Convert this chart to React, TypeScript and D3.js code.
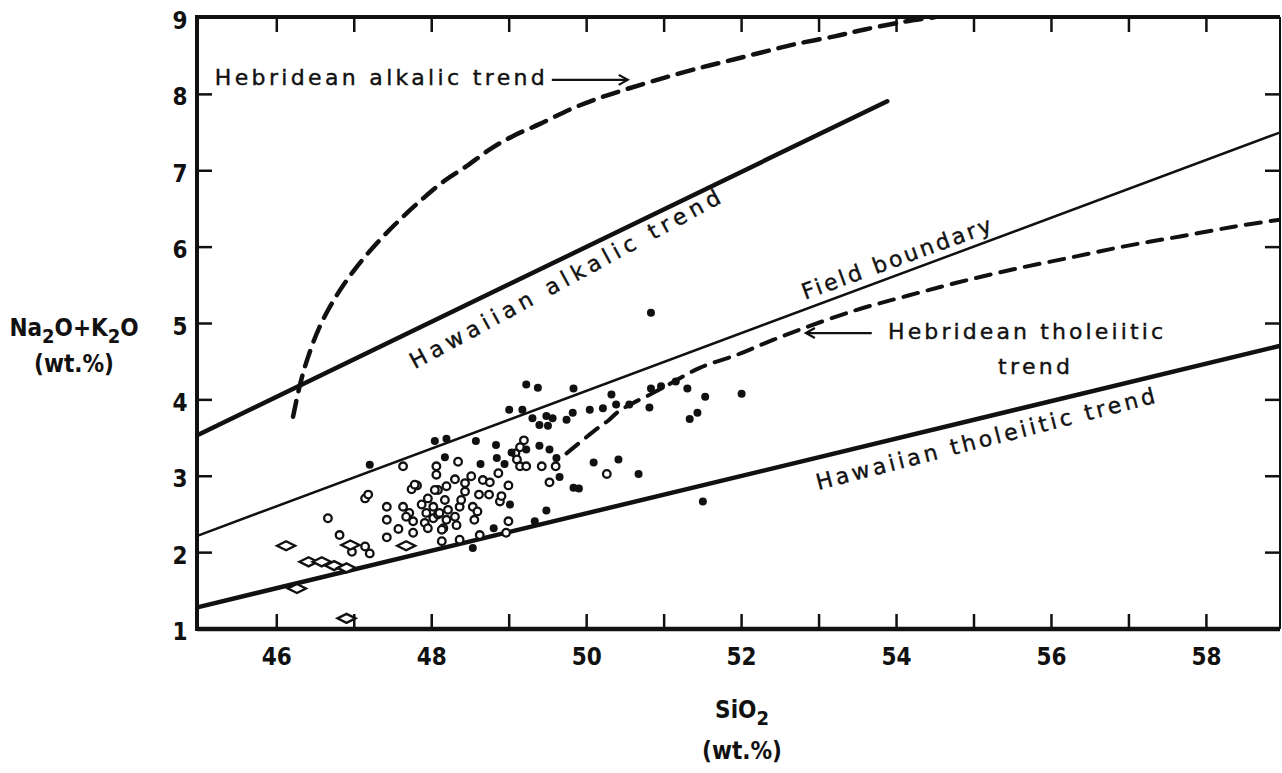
import React from "react";
import * as d3 from "d3";

// ---------- data ----------
const xTickValues = [46, 47, 48, 49, 50, 51, 52, 53, 54, 55, 56, 57, 58];
const xTickLabels = [46, 48, 50, 52, 54, 56, 58];
const yTickValues = [2, 3, 4, 5, 6, 7, 8];
const yTickLabels = [1, 2, 3, 4, 5, 6, 7, 8, 9];

const hawaiianAlkalic: [number, number][] = [[45, 3.55], [53.88, 7.91]];
const fieldBoundary: [number, number][] = [[45, 2.23], [59, 7.52]];
const hawaiianTholeiitic: [number, number][] = [[45, 1.29], [59, 4.72]];

const hebrideanAlkalic: [number, number][] = [
  [46.21, 3.78], [46.3, 4.2], [46.4, 4.55], [46.55, 4.95], [46.75, 5.33],
  [47.0, 5.7], [47.3, 6.06], [47.6, 6.37], [47.88, 6.63],
  [48.14, 6.85], [48.45, 7.06], [48.75, 7.28], [49.04, 7.45], [49.39, 7.61],
  [49.78, 7.8], [50.13, 7.94], [50.52, 8.07], [51.01, 8.22], [51.51, 8.36],
  [51.91, 8.46], [52.3, 8.56], [52.7, 8.66], [53.2, 8.76], [53.59, 8.85],
  [54.09, 8.95], [54.49, 9.01],
];

const hebrideanTholeiitic: [number, number][] = [
  [49.74, 3.3], [50.13, 3.62], [50.28, 3.73], [50.4, 3.84], [50.6, 3.96],
  [50.82, 4.07], [51.04, 4.19], [51.46, 4.42], [51.94, 4.59], [52.32, 4.75],
  [52.75, 4.92], [53.46, 5.17], [54.13, 5.36], [54.8, 5.54], [55.51, 5.71],
  [56.23, 5.86], [56.94, 6.01], [57.66, 6.14], [58.37, 6.27], [58.95, 6.36],
];

const openCircles: [number, number][] = [
  [46.66, 2.45], [46.81, 2.23], [47.2, 1.99], [46.97, 2.01], [47.14, 2.08],
  [47.14, 2.71], [47.18, 2.76], [47.42, 2.6], [47.42, 2.43], [47.42, 2.2],
  [47.57, 2.31], [47.63, 3.13], [47.63, 2.6], [47.71, 2.52], [47.76, 2.26],
  [47.74, 2.83], [47.81, 2.88], [47.87, 2.63], [47.95, 2.71], [47.93, 2.52],
  [47.91, 2.39], [47.95, 2.32], [48.06, 3.13], [48.06, 3.02], [48.08, 2.82],
  [48.02, 2.6], [48.02, 2.45], [48.13, 2.15], [48.17, 2.69], [48.19, 2.87],
  [48.21, 2.56], [48.19, 2.43], [48.15, 2.32], [48.08, 2.5], [48.3, 2.96],
  [48.34, 3.19], [48.32, 2.36], [48.36, 2.17], [48.43, 2.91], [48.43, 2.8],
  [48.51, 3.0], [48.53, 2.6], [47.78, 2.89], [48.66, 2.95], [48.75, 2.92],
  [48.86, 3.04], [48.99, 2.88], [49.19, 3.47], [49.14, 3.38], [49.08, 3.3],
  [49.1, 3.22], [49.14, 3.13], [49.22, 3.13], [49.42, 3.13], [49.6, 3.13],
  [49.52, 2.92], [50.26, 3.03], [47.67, 2.47], [47.76, 2.41], [48.1, 2.52],
  [48.13, 2.3], [48.04, 2.82], [48.3, 2.47], [48.36, 2.6], [48.38, 2.69],
  [48.59, 2.54], [48.55, 2.43], [48.61, 2.76], [48.74, 2.76], [48.88, 2.67],
  [48.9, 2.74], [48.99, 2.41], [48.96, 2.26], [48.62, 2.23],
];

const filledDots: [number, number][] = [
  [47.2, 3.15], [48.04, 3.46], [48.19, 3.49], [48.57, 3.46], [48.17, 3.25],
  [48.53, 2.06], [49.22, 4.2], [49.37, 4.16], [49.83, 4.15], [49.0, 3.87],
  [49.17, 3.87], [49.3, 3.76], [49.48, 3.79], [49.56, 3.76], [49.39, 3.67],
  [49.5, 3.66], [49.74, 3.74], [49.82, 3.83], [50.04, 3.87], [50.21, 3.89],
  [50.32, 4.07], [50.38, 3.94], [48.83, 3.41], [48.84, 3.24], [48.63, 3.16],
  [49.39, 3.4], [49.52, 3.35], [49.22, 3.35], [50.09, 3.18], [50.41, 3.22],
  [49.61, 3.24], [49.65, 2.99], [48.94, 3.16], [49.03, 3.31], [49.01, 2.63],
  [49.48, 2.55], [49.33, 2.41], [48.8, 2.32], [49.83, 2.85], [49.9, 2.84],
  [50.83, 5.14], [50.96, 4.18], [50.83, 4.15], [50.55, 3.94], [50.81, 3.9],
  [51.3, 4.15], [51.15, 4.24], [51.53, 4.04], [52.0, 4.08], [51.43, 3.83],
  [51.33, 3.75], [50.67, 3.03], [51.5, 2.67],
];

const diamonds: [number, number][] = [
  [46.12, 2.09], [46.26, 1.53], [46.41, 1.88], [46.58, 1.88], [46.74, 1.83],
  [46.9, 1.8], [46.95, 2.1], [47.67, 2.09], [46.9, 1.14],
];

// ---------- layout ----------
const W = 1282;
const H = 773;
const X_MIN = 44.97;
const X_MAX = 58.95;
const Y_MIN = 1;
const Y_MAX = 9;

const x = d3.scaleLinear().domain([X_MIN, X_MAX]).range([197, 1280]);
const y = d3.scaleLinear().domain([Y_MIN, Y_MAX]).range([629, 18]);

const INK = "#111";
const tickFont = "'Liberation Sans Narrow', 'DejaVu Sans Condensed', 'Arial Narrow', sans-serif";
const labelFont = "'DejaVu Sans', 'Noto Sans', sans-serif";

const lineGen = d3.line<[number, number]>().x((d) => x(d[0])).y((d) => y(d[1]));
const curveGen = d3
  .line<[number, number]>()
  .x((d) => x(d[0]))
  .y((d) => y(d[1]))
  .curve(d3.curveCatmullRom.alpha(0.5));

function Arrow({ x1, x2, yy }: { x1: number; x2: number; yy: number }) {
  const dir = x2 > x1 ? 1 : -1;
  return (
    <g stroke={INK} fill="none" strokeWidth={2.2}>
      <line x1={x1} y1={yy} x2={x2} y2={yy} />
      <path d={`M${x2 - dir * 9},${yy - 5} L${x2},${yy} L${x2 - dir * 9},${yy + 5}`} />
    </g>
  );
}

export default function App() {
  const left = x(X_MIN);
  const right = x(X_MAX);
  const top = y(Y_MAX) - 1;
  const bottom = y(Y_MIN);

  const rot = (px: number, py: number, ang: number) => `rotate(${ang},${px},${py})`;

  const haX = x(47.78), haY = y(4.4);
  const fbX = x(52.82), fbY = y(5.31);
  const htX = x(52.99), htY = y(2.82);

  return (
    <svg
      width={W}
      height={H}
      style={{ position: "absolute", left: 0, top: 0, background: "#fff" }}
      xmlns="http://www.w3.org/2000/svg"
    >
      <defs>
        <clipPath id="plot">
          <rect x={left} y={top} width={right - left} height={bottom - top} />
        </clipPath>
      </defs>

      {/* frame */}
      <g stroke={INK} fill="none">
        <line x1={left} y1={top} x2={right} y2={top} strokeWidth={4} />
        <line x1={left} y1={bottom} x2={right} y2={bottom} strokeWidth={4.5} />
        <line x1={left} y1={top - 2} x2={left} y2={bottom + 2} strokeWidth={4} />
        <line x1={right} y1={top} x2={right} y2={bottom} strokeWidth={2} />
      </g>

      {/* ticks */}
      <g stroke={INK} strokeWidth={2.5}>
        {xTickValues.map((v) => (
          <g key={"xt" + v}>
            <line x1={x(v)} y1={bottom} x2={x(v)} y2={bottom - 15} />
            <line x1={x(v)} y1={top} x2={x(v)} y2={top + 15} />
          </g>
        ))}
        {yTickValues.map((v) => (
          <g key={"yt" + v}>
            <line x1={left} y1={y(v)} x2={left + 15} y2={y(v)} />
            <line x1={right} y1={y(v)} x2={right - 15} y2={y(v)} />
          </g>
        ))}
      </g>

      {/* tick labels */}
      <g fill={INK} fontFamily={tickFont} fontWeight="bold" fontSize={24}>
        {xTickLabels.map((v) => (
          <text key={"xl" + v} x={x(v)} y={bottom + 36} textAnchor="middle">
            {v}
          </text>
        ))}
        {yTickLabels.map((v) => (
          <text key={"yl" + v} x={180} y={y(v) + 11} textAnchor="middle">
            {v}
          </text>
        ))}
      </g>

      {/* axis titles */}
      <g fill={INK} fontFamily={tickFont} fontWeight="bold" fontSize={24}>
        <text x={74} y={336} textAnchor="middle">
          Na<tspan dy={7} fontSize={20}>2</tspan>
          <tspan dy={-7}>O+K</tspan>
          <tspan dy={7} fontSize={20}>2</tspan>
          <tspan dy={-7}>O</tspan>
        </text>
        <text x={74} y={372} textAnchor="middle">(wt.%)</text>
        <text x={742} y={718} textAnchor="middle">
          SiO<tspan dy={7} fontSize={20}>2</tspan>
        </text>
        <text x={742} y={759} textAnchor="middle">(wt.%)</text>
      </g>

      {/* trend lines */}
      <g clipPath="url(#plot)" fill="none" stroke={INK} strokeLinecap="round">
        <path d={lineGen(hawaiianAlkalic) || ""} strokeWidth={4.5} />
        <path d={lineGen(fieldBoundary) || ""} strokeWidth={2.5} />
        <path d={lineGen(hawaiianTholeiitic) || ""} strokeWidth={4.5} />
        <path d={curveGen(hebrideanAlkalic) || ""} strokeWidth={4.5} strokeDasharray="16 10" />
        <path d={curveGen(hebrideanTholeiitic) || ""} strokeWidth={4} strokeDasharray="15 10" />
      </g>

      {/* points */}
      <g clipPath="url(#plot)">
        {openCircles.map((d, i) => (
          <circle key={"o" + i} cx={x(d[0])} cy={y(d[1])} r={3.8} fill="#fff" stroke={INK} strokeWidth={2.3} />
        ))}
        {filledDots.map((d, i) => (
          <circle key={"f" + i} cx={x(d[0])} cy={y(d[1])} r={4} fill={INK} />
        ))}
        {diamonds.map((d, i) => {
          const cx = x(d[0]);
          const cy = y(d[1]);
          return (
            <path
              key={"d" + i}
              d={`M${cx - 9},${cy} L${cx},${cy - 4.5} L${cx + 9},${cy} L${cx},${cy + 4.5} Z`}
              fill="#fff"
              stroke={INK}
              strokeWidth={2.4}
            />
          );
        })}
      </g>

      {/* annotations */}
      <g fill={INK} fontFamily={labelFont} fontSize={22} stroke={INK} strokeWidth={0.4}>
        <text x={x(45.2)} y={y(8.12)} textLength={330} lengthAdjust="spacing">
          Hebridean alkalic trend
        </text>
        <text x={haX} y={haY} transform={rot(haX, haY, -28.5)} textLength={350} lengthAdjust="spacing">
          Hawaiian alkalic trend
        </text>
        <text x={fbX} y={fbY} transform={rot(fbX, fbY, -20)} textLength={200} lengthAdjust="spacing">
          Field boundary
        </text>
        <text x={x(53.89)} y={y(4.8)} textLength={275} lengthAdjust="spacing">
          Hebridean tholeiitic
        </text>
        <text x={x(55.31)} y={y(4.34)} textLength={72} lengthAdjust="spacing">
          trend
        </text>
        <text x={htX} y={htY} transform={rot(htX, htY, -14.5)} textLength={349} lengthAdjust="spacing">
          Hawaiian tholeiitic trend
        </text>
      </g>
      <Arrow x1={x(49.55)} x2={x(50.53)} yy={y(8.19)} />
      <Arrow x1={x(53.68)} x2={x(52.83)} yy={y(4.875)} />
    </svg>
  );
}
